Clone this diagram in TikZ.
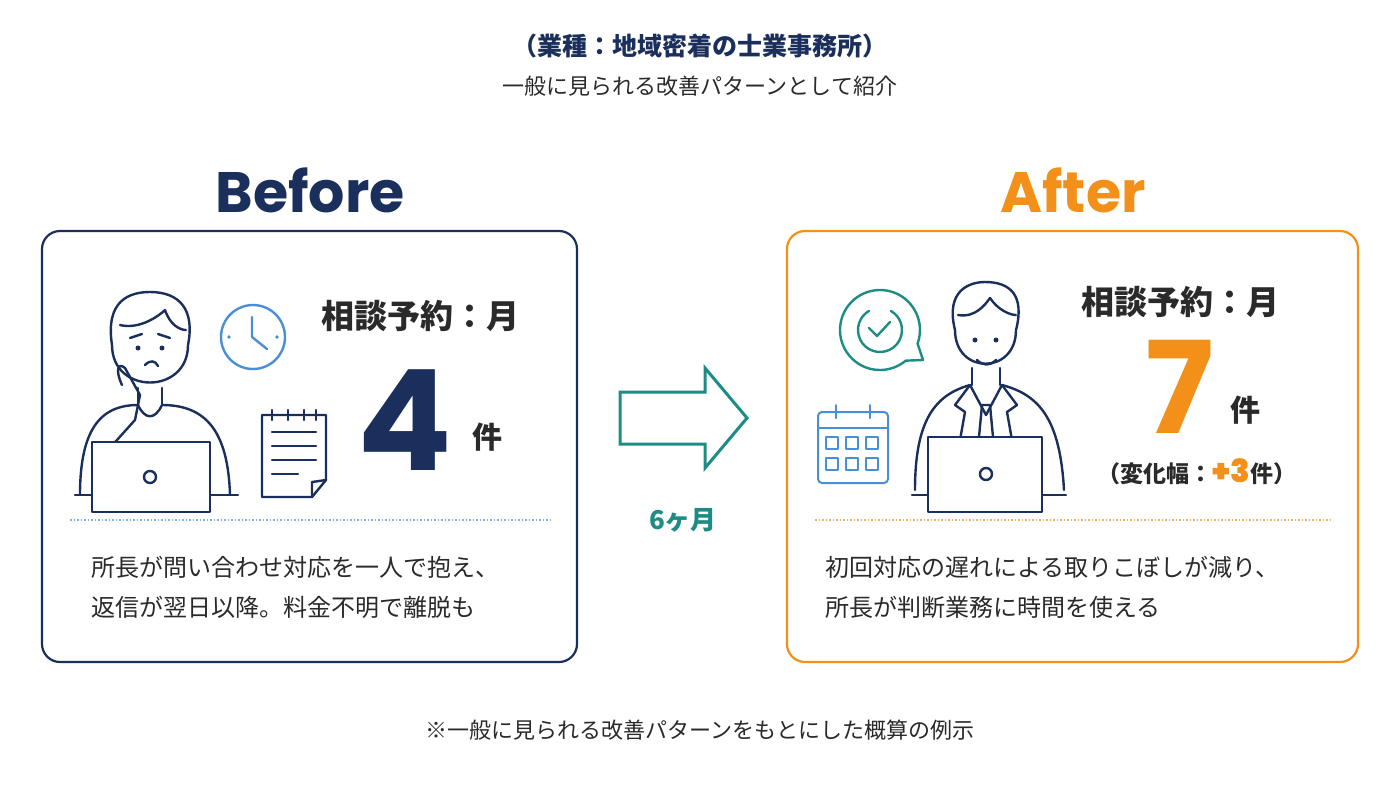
\documentclass[tikz,border=0pt]{standalone}
\usepackage{fontspec}
\setmainfont{Noto Sans CJK JP}
\newfontfamily\latinb{Poppins}[UprightFont=* Bold]
\definecolor{navy}{HTML}{1B2F5C}
\definecolor{orng}{HTML}{F39019}
\definecolor{teal}{HTML}{1C8C84}
\definecolor{lblue}{HTML}{4A8FD6}
\definecolor{txt}{HTML}{2A2A2A}
\begin{document}
\begin{tikzpicture}[x=1pt,y=-1pt,
  panel/.style={draw,line width=2.2pt,rounded corners=18pt},
  ico/.style={line width=2.4pt,line cap=round,line join=round},
  body/.style={font=\fontsize{24}{28}\selectfont,text=txt,anchor=west},
  lab/.style={font=\bfseries\fontsize{33}{36}\selectfont,text=txt}]
\useasboundingbox (0,0) rectangle (1400,788);
\fill[white] (0,0) rectangle (1400,788);
\node (t1) at (700,46) {\fontsize{25}{28}\selectfont\bfseries\color{navy}（業種：地域密着の士業事務所）};
\node (t2) at (700,86) {\fontsize{22}{26}\selectfont\color{txt}一般に見られる改善パターンとして紹介};
\node (bef) at (310,190) {\latinb\fontsize{57}{62}\selectfont\color{navy}Before};
\node (aft) at (1073,190) {\latinb\fontsize{57}{62}\selectfont\color{orng}After};
\draw[panel,navy] (42,231) rectangle (577,662);
\draw[panel,orng] (787,231) rectangle (1358,662);
% before texts
\node[lab] (l1) at (420,316) {相談予約：月};
\node[anchor=base] (n4) at (405,470) {\latinb\fontsize{140}{145}\selectfont\color{navy}4};
\node[lab,font=\bfseries\fontsize{30}{34}\selectfont] (k1) at (487,437) {件};
\draw[lblue!70,line width=1.5pt,dotted] (70,520) -- (550,520);
\node[body] (b1) at (88,567) {所長が問い合わせ対応を一人で抱え、};
\node[body] (b2) at (88,607) {返信が翌日以降。料金不明で離脱も};
% after texts
\node[lab] (l2) at (1180,302) {相談予約：月};
\node[anchor=base,inner sep=0pt] (n7) at (1180,433) {\latinb\fontsize{128}{130}\selectfont\color{orng}7};
\node[lab,font=\bfseries\fontsize{30}{34}\selectfont] (k2) at (1245,410) {件};
\node (ch) at (1197,472) {\fontsize{23}{26}\selectfont\bfseries\color{txt}（変化幅：\textcolor{orng}{\fontsize{32}{32}\selectfont\latinb +3}件）};
\draw[orng!70,line width=1.5pt,dotted] (815,520) -- (1330,520);
\node[body] (a1) at (822,567) {初回対応の遅れによる取りこぼしが減り、};
\node[body] (a2) at (822,607) {所長が判断業務に時間を使える};
% arrow
\draw[teal,line width=3pt,line join=miter] (620,392) -- (705,392) -- (705,368) -- (747,418) -- (705,468) -- (705,444) -- (620,444) -- cycle;
\node (m6) at (683,520) {\fontsize{26}{30}\selectfont\bfseries\color{teal}6ヶ月};
\node (fn) at (700,730) {\fontsize{22}{26}\selectfont\color{txt}※一般に見られる改善パターンをもとにした概算の例示};
% left person
\begin{scope}[ico,navy]
\draw (112,345) .. controls (105,300) and (130,292) .. (150,292) .. controls (180,292) and (195,310) .. (188,345);
\draw (112,345) .. controls (112,395) and (188,395) .. (188,345);
\draw (120,325) .. controls (140,330) and (160,315) .. (165,310) .. controls (170,325) and (180,330) .. (186,330);
\fill (138,348) circle (2.5); \fill (162,348) circle (2.5);
\draw (130,338) -- (142,334); \draw (158,334) -- (170,338);
\draw (145,365) .. controls (150,360) and (155,360) .. (158,366);
\draw (138,388) -- (138,405) (162,388) -- (162,405);
\draw (80,495) .. controls (80,430) and (100,405) .. (138,405) .. controls (145,420) and (155,420) .. (162,405) .. controls (205,405) and (228,430) .. (230,495);
\draw (122,385) .. controls (115,370) and (118,362) .. (125,368) -- (140,395) -- (135,420) -- (108,450);
\draw (75,495) -- (238,495);
\draw[fill=white] (92,442) rectangle (210,512);
\draw (150,477) circle (6);
\end{scope}
\draw[ico,lblue] (253,337) circle (32);
\draw[ico,lblue] (252,317) -- (252,337) -- (267,349);
\fill[lblue] (229,337) circle (1.8) (277,337) circle (1.8);
\begin{scope}[ico,navy]
\draw (262,415) -- (326,415) -- (326,480) -- (312,497) -- (262,497) -- cycle;
\draw (312,497) -- (312,482) -- (326,480);
\foreach \x in {272,288,304,316} \draw (\x,410) -- (\x,420);
\foreach \y in {432,446,460} \draw (272,\y) -- (316,\y);
\draw (272,474) -- (298,474);
\end{scope}
% right person
\begin{scope}[ico,navy]
\draw (955,330) .. controls (945,290) and (970,282) .. (985,282) .. controls (1010,282) and (1025,295) .. (1016,330);
\draw (955,330) .. controls (955,375) and (1016,375) .. (1016,330);
\draw (958,315) .. controls (975,318) and (985,305) .. (990,298) .. controls (998,310) and (1010,315) .. (1016,315);
\fill (975,340) circle (2.5); \fill (996,340) circle (2.5);
\draw (977,360) .. controls (983,366) and (990,366) .. (996,360);
\draw (972,368) -- (972,385) (1000,368) -- (1000,385);
\draw (915,490) .. controls (915,420) and (935,395) .. (970,385) -- (986,415) -- (1002,385) .. controls (1040,395) and (1060,420) .. (1064,490);
\draw (970,385) -- (955,405) -- (965,412) -- (960,440);
\draw (1002,385) -- (1017,405) -- (1007,412) -- (1012,440);
\draw (982,405) -- (990,405) -- (993,437) -- (986,446) -- (979,437) -- cycle;
\draw (912,495) -- (1066,495);
\draw[fill=white] (928,437) rectangle (1042,512);
\draw (986,474) circle (6);
\end{scope}
\begin{scope}[ico,teal]
\draw ([shift={(50:40)}]880,330) arc[start angle=50,end angle=380,radius=40] -- (923,360) -- cycle;
\draw ([shift={(-60:22)}]880,330) arc[start angle=-60,end angle=240,radius=22];
\draw (869,328) -- (877,336) -- (890,322);
\end{scope}
\begin{scope}[ico,lblue,line width=2pt]
\draw[rounded corners=4] (818,412) rectangle (888,483);
\draw (818,428) -- (888,428);
\draw (836,405) -- (836,418) (870,405) -- (870,418);
\foreach \x in {832,852,872} \foreach \y in {443,464} \draw (\x-6,\y-6) rectangle (\x+6,\y+6);
\end{scope}
\end{tikzpicture}
\end{document}
